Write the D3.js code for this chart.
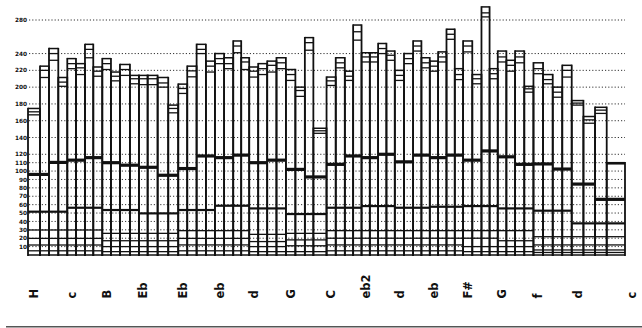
<!DOCTYPE html>
<html>
<head>
<meta charset="utf-8">
<script src="https://cdn.jsdelivr.net/npm/d3@7"></script>
<style>
  html, body { margin: 0; padding: 0; background: #fff; }
  svg { display: block; }
</style>
</head>
<body>
<div id="chart"></div>
<script>
// ---- data ----
const groupLabels = ["H","c","B","Eb","Eb","eb","d","G","C","eb2","d","eb","F#","G","f","d","c"];
const groupSizes  = [4,4,4,4,4,4,4,4,4,4,4,4,4,4,4,4,0];

// relative width of each bar
const barSpan = [12,9,9.3,9,8.7,9,8.3,9,8.7,9,
                 10,9,8.7,10,10.6,10,9,9.4,9.3,9,
                 9.2,9.1,8,8,9,9,9.3,9.4,9.5,9.5,
                 8.5,13.2,9.2,9.1,8.3,8.4,8.3,8.3,8.3,8.4,
                 9.2,9.1,8.3,8.4,8.3,8.4,8.3,8.3,9.2,9.2,
                 8.1,8.2,8.6,8.7,9.2,9.2,9.6,9.7,9.5,9.5,
                 11.7,11.6,11.7,18.3];

// bar totals and the two inner lines of the top box
const barTop = [174.6,225,246,211.5,234,228,251,224,234,218,
                227,214,214,214,211.5,178.6,203.6,225,251,231,
                240,235,255,235,224,228,231,235,221,200,
                259,151,212,235,219,274,241,241,252,243,
                220,240,255,235,231,242,269,222,255,215,
                295.6,222,243,232,243,201,229,215,200,226,
                184,165,176,110];
const barLine2 = [170.6,220,240,206,228,223,245,219,228,213,
                221,210,210,210,205,174.6,198.4,219.4,245,225,
                234,228,249,230,219,222,226,229,215,196,
                253,148,207.5,229,213,266,236,236,246,238,
                214,234,249,229,225,236,263,215,249,210,
                288.5,216,236,226,236,198,222,209,194,220,
                181,161,172.6,108.8];
const barLine3 = [167,211.5,232,201,222,215,235,213,221,207.5,
                214,204,203,203,200,169.4,192.5,212.3,240,218,
                228,222,241,221,212,215,218,222,208,189,
                244,145,202,223,208,256,230,230,240,232,
                208,228,243,223,219,230,257,209,242,204,
                283.7,210,230,219,229,194,216,204,188,212,
                178.6,157,168.7,108.8];

// heavy line, one value per pair of bars
const pairLevel = [96,110.3,113,116,110,107,104.5,95,103,118,
                   116,119,110,113,102,93,108,118,116,120,
                   111,119,116,119,113,124,117,108,108.5,102.4,
                   84.5,66.3];

// lower lines, one value per group of four bars
const groupMid  = [51.6,56.3,53.6,49.6,53.6,58.7,55.5,48.8,56.3,58.3,56.3,57.5,58.3,55.5,52.8,37.7];
const groupLow3 = [29.8,29.8,25.8,25.8,29,29,24.6,25.8,29,29,29,29,29,29,21.8,21.8];
const groupLow2 = [19.8,19.8,17,17,19.8,19.8,16,18,20,20,20,20,20,17,12,12];
const groupLow1 = [11.9,11.9,10,10,12,12,10,11,12,12,12,12,10,10,6,6];
const groupLow0 = [5,5,4,4,5,5,4,4,5,5,5,5,4,4,3,3];

const yTicks = [10,20,30,40,50,60,70,80,90,100,110,120,140,160,180,200,220,240,280];

// ---- drawing ----
const W = 642, H = 328;
const svg = d3.select("#chart").append("svg").attr("width", W).attr("height", H);
svg.append("rect").attr("width", W).attr("height", H).attr("fill", "#fff");

const totalSpan = d3.sum(barSpan);
const cum = [0];
barSpan.forEach((s, i) => cum.push(cum[i] + s));
const x = d3.scaleLinear().domain([0, totalSpan]).range([28, 625]);
const y = d3.scaleLinear().domain([0, 280]).range([255, 20]);

// gridlines
const grid = svg.append("g");
grid.selectAll("line").data(yTicks).join("line")
  .attr("x1", 29).attr("x2", 625)
  .attr("y1", d => y(d)).attr("y2", d => y(d))
  .attr("stroke", "#333").attr("stroke-width", 1)
  .attr("stroke-dasharray", "1.2,2");

// y tick labels
svg.append("g").selectAll("text").data(yTicks).join("text")
  .attr("x", 27).attr("y", d => y(d)).attr("dy", "0.36em")
  .attr("text-anchor", "end")
  .attr("font-family", "DejaVu Sans").attr("font-weight", "bold")
  .attr("font-size", 5.8).attr("fill", "#111")
  .text(d => d);

// bars
const bars = barTop.map((t, i) => {
  const g = Math.floor(i / 4), p = Math.floor(i / 2);
  return {i, top: t, l2: barLine2[i], l3: barLine3[i], heavy: pairLevel[p],
          mid: groupMid[g], low: [groupLow3[g], groupLow2[g], groupLow1[g], groupLow0[g]],
          x0: x(cum[i]), x1: x(cum[i + 1])};
});

const bg = svg.append("g");
const ink = "#111";
bars.forEach(b => {
  const gg = bg.append("g");
  const hl = (v, w) => gg.append("line")
    .attr("x1", b.x0).attr("x2", b.x1)
    .attr("y1", y(v)).attr("y2", y(v))
    .attr("stroke", ink).attr("stroke-width", w);
  b.low.forEach(v => hl(v, 1.3));
  hl(b.mid, 2.2);
  hl(b.heavy, 3.2);
  hl(b.l3, 1.3);
  hl(b.l2, 1.3);
  hl(b.top, 1.5);
  gg.append("line").attr("x1", b.x0).attr("x2", b.x0)
    .attr("y1", y(0) + 1).attr("y2", y(b.top) - 0.7)
    .attr("stroke", ink).attr("stroke-width", 1.8);
  gg.append("line").attr("x1", b.x1).attr("x2", b.x1)
    .attr("y1", y(0) + 1).attr("y2", y(b.top) - 0.7)
    .attr("stroke", ink).attr("stroke-width", 1.8);
});
// baseline
bg.append("line").attr("x1", x(0)).attr("x2", x(totalSpan))
  .attr("y1", y(0)).attr("y2", y(0)).attr("stroke", ink).attr("stroke-width", 1.5);

// group labels
let start = 0;
const labelPos = groupSizes.map((n, gi) => {
  let px;
  if (n > 0) px = (x(cum[start]) + x(cum[start + 1])) / 2;
  else px = x(cum[start]) + 7;
  start += n;
  return {label: groupLabels[gi], px};
});
svg.append("g").selectAll("text").data(labelPos).join("text")
  .attr("transform", d => `translate(${d.px},298.5) rotate(-90)`)
  .attr("dy", "0.36em")
  .attr("text-anchor", "start")
  .attr("font-family", "DejaVu Sans").attr("font-weight", "bold")
  .attr("font-size", 11.5).attr("fill", "#111")
  .text(d => d.label);

// bottom border of the scan
svg.append("line").attr("x1", 6).attr("x2", 642).attr("y1", 326.8).attr("y2", 326.8)
  .attr("stroke", "#555").attr("stroke-width", 1.6);
</script>
</body>
</html>
